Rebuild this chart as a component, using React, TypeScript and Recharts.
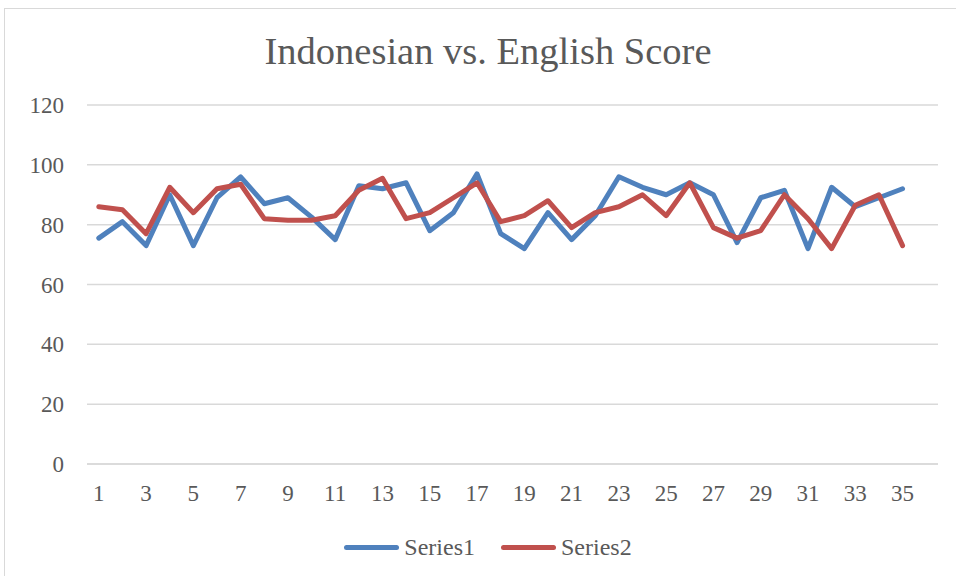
import React from 'react';
import { LineChart, Line, XAxis, YAxis, CartesianGrid, Legend } from 'recharts';

// categories 1..35 plus one empty slot at the end (the axis keeps room for it)
const categories = [
  '1', '2', '3', '4', '5', '6', '7', '8', '9', '10', '11', '12', '13', '14', '15', '16', '17', '18',
  '19', '20', '21', '22', '23', '24', '25', '26', '27', '28', '29', '30', '31', '32', '33', '34', '35', '36',
];

const series1 = [
  75.5, 81, 73, 90, 73, 89, 96, 87, 89, 82.5, 75, 93, 92, 94, 78, 84, 97, 77,
  72, 84, 75, 83, 96, 92.5, 90, 94, 90, 74, 89, 91.5, 72, 92.5, 86, 89, 92, null,
];

const series2 = [
  86, 85, 77, 92.5, 84, 92, 93.5, 82, 81.5, 81.5, 83, 91.5, 95.5, 82, 84, 89, 94, 81,
  83, 88, 79, 84, 86, 90, 83, 94, 79, 75.5, 78, 90, 82, 72, 86.5, 90, 73, null,
];

const yTicks = [0, 20, 40, 60, 80, 100, 120];

const data = categories.map((c, i) => ({ label: c, s1: series1[i], s2: series2[i] }));

const FONT = '"Liberation Serif", serif';
const TEXT = '#595959';

const LegendContent = (props: any) => {
  const { payload } = props;
  return (
    <div style={{ display: 'flex', justifyContent: 'center', alignItems: 'center', height: 30 }}>
      {(payload || []).map((p: any, i: number) => (
        <div key={i} style={{ display: 'flex', alignItems: 'center', marginLeft: i ? 26 : 0 }}>
          <div style={{ width: 55, height: 5, borderRadius: 3, background: p.color, marginRight: 5 }} />
          <span style={{ fontFamily: FONT, fontSize: 24, color: TEXT }}>{p.value}</span>
        </div>
      ))}
    </div>
  );
};

const App: React.FC = () => {
  return (
    <div style={{ position: 'relative', width: 956, height: 576, overflow: 'hidden', background: '#fff' }}>
      <style>{'body{margin:0}'}</style>
      <div style={{ position: 'absolute', left: 4, top: 8, width: 970, height: 590, border: '1px solid #D9D9D9' }} />
      <div
        style={{
          position: 'absolute', top: 31, left: 0, width: 976, textAlign: 'center',
          fontFamily: FONT, fontSize: 38.5, lineHeight: '40px', color: TEXT,
        }}
      >
        Indonesian vs. English Score
      </div>
      <div style={{ position: 'absolute', left: 0, top: 0 }}>
        <LineChart width={956} height={576} data={data} margin={{ top: 105, right: 18, left: 27, bottom: 42 }}>
          <CartesianGrid vertical={false} stroke="#D9D9D9" strokeWidth={1.5} />
          <XAxis
            dataKey="label"
            interval={1}
            height={40}
            padding={{ left: 11.8, right: 11.8 }}
            axisLine={{ stroke: '#D9D9D9', strokeWidth: 1.5 }}
            tickLine={false}
            tickSize={0}
            tickMargin={21}
            tick={{ fill: TEXT, fontSize: 23, fontFamily: FONT }}
          />
          <YAxis
            domain={[0, 120]}
            ticks={yTicks}
            width={60}
            axisLine={false}
            tickLine={false}
            tickSize={0}
            tickMargin={23}
            tick={{ fill: TEXT, fontSize: 23, fontFamily: FONT }}
          />
          <Legend
            content={<LegendContent />}
            wrapperStyle={{ position: 'absolute', top: 532, left: 0, width: 976, height: 30 }}
          />
          <Line
            name="Series1"
            dataKey="s1"
            stroke="#4F81BD"
            strokeWidth={5}
            dot={false}
            strokeLinejoin="round"
            strokeLinecap="round"
            isAnimationActive={false}
          />
          <Line
            name="Series2"
            dataKey="s2"
            stroke="#C0504D"
            strokeWidth={5}
            dot={false}
            strokeLinejoin="round"
            strokeLinecap="round"
            isAnimationActive={false}
          />
        </LineChart>
      </div>
    </div>
  );
};

export default App;
